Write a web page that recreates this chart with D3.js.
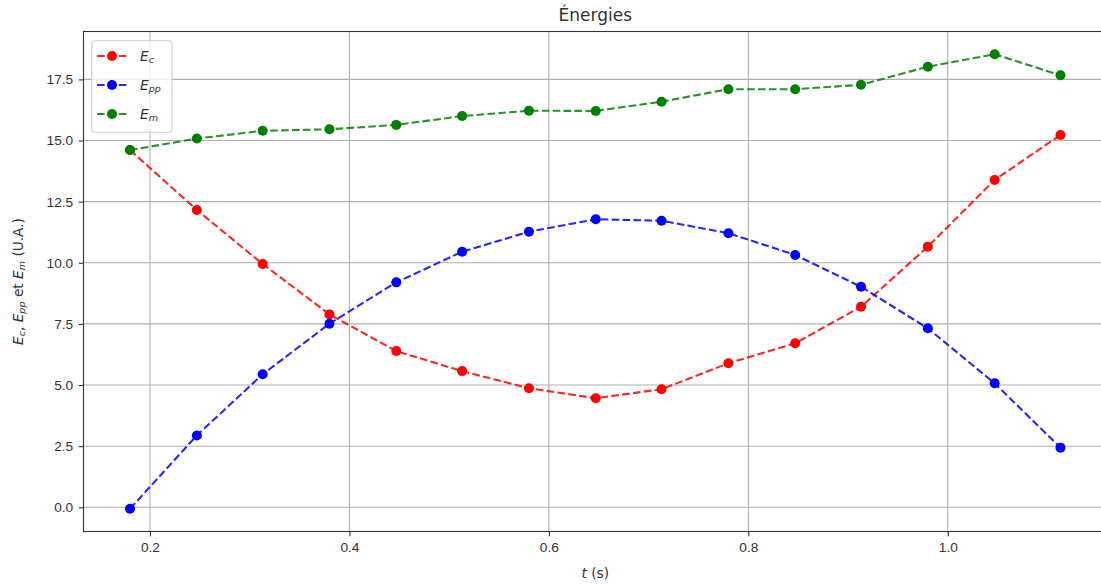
<!DOCTYPE html>
<html>
<head>
<meta charset="utf-8">
<script src="https://cdn.jsdelivr.net/npm/d3@7"></script>
<style>
  body { margin: 0; background: #fff; }
  svg { display: block; font-family: "DejaVu Sans", sans-serif; }
  .tick text { fill: #333; font-size: 13.7px; }
</style>
</head>
<body>
<div class="canvas"></div>
<script>
// data
const t   = [0.180, 0.247, 0.313, 0.380, 0.447, 0.513, 0.580, 0.647, 0.713, 0.780, 0.847, 0.913, 0.980, 1.047, 1.113];
const Ec  = [14.61, 12.16, 9.95, 7.89, 6.39, 5.57, 4.87, 4.46, 4.83, 5.89, 6.71, 8.20, 10.66, 13.39, 15.23];
const Epp = [-0.06, 2.94, 5.44, 7.51, 9.20, 10.45, 11.27, 11.78, 11.72, 11.21, 10.32, 9.02, 7.32, 5.07, 2.44];
const Em  = [14.61, 15.08, 15.40, 15.46, 15.64, 16.00, 16.22, 16.21, 16.59, 17.10, 17.10, 17.28, 18.02, 18.53, 17.67];
const xTicks = [0.2, 0.4, 0.6, 0.8, 1.0];
const yTicks = [0, 2.5, 5, 7.5, 10, 12.5, 15, 17.5];

const series = [
    { name: 'c',  sub: 'c',  values: Ec,  colour: '#ff0000' },
    { name: 'pp', sub: 'pp', values: Epp, colour: '#0000ff' },
    { name: 'm',  sub: 'm',  values: Em,  colour: '#008000' }
];

const dims = { width: 1101, height: 584 };
const box = { left: 83.5, top: 31.5, right: 1107, bottom: 531.5 };

const svg = d3.select('.canvas')
    .append('svg')
    .attr('width', dims.width)
    .attr('height', dims.height);

// matplotlib style 5% margins
const pad = (ext) => { const m = (ext[1] - ext[0]) * 0.05; return [ext[0] - m, ext[1] + m]; };
const allVals = Ec.concat(Epp, Em);

const x = d3.scaleLinear().domain(pad(d3.extent(t))).range([box.left, box.right]);
const y = d3.scaleLinear().domain(pad(d3.extent(allVals))).range([box.bottom, box.top]);

// grid
const grid = svg.append('g');
grid.selectAll('line.gx')
    .data(xTicks)
    .enter().append('line')
    .attr('x1', d => x(d)).attr('x2', d => x(d))
    .attr('y1', box.top).attr('y2', box.bottom)
    .attr('stroke', '#b0b0b0').attr('stroke-width', 1.1);
grid.selectAll('line.gy')
    .data(yTicks)
    .enter().append('line')
    .attr('x1', box.left).attr('x2', box.right)
    .attr('y1', d => y(d)).attr('y2', d => y(d))
    .attr('stroke', '#b0b0b0').attr('stroke-width', 1.1);

// lines + markers
const line = d3.line()
    .x((d, i) => x(t[i]))
    .y(d => y(d));

series.forEach(s => {
    const g = svg.append('g');
    g.append('path')
        .attr('d', line(s.values))
        .attr('fill', 'none')
        .attr('stroke', s.colour)
        .attr('stroke-opacity', 0.85)
        .attr('stroke-width', 2.1)
        .attr('stroke-dasharray', '7.6,3.3');
    g.selectAll('circle')
        .data(s.values)
        .enter().append('circle')
        .attr('cx', (d, i) => x(t[i]))
        .attr('cy', d => y(d))
        .attr('r', 5)
        .attr('fill', s.colour);
});

// axes
const xAxis = d3.axisBottom(x)
    .tickValues(xTicks)
    .tickFormat(d3.format('.1f'))
    .tickSize(4.8)
    .tickPadding(5.5);
const yAxis = d3.axisLeft(y)
    .tickValues(yTicks)
    .tickFormat(d3.format('.1f'))
    .tickSize(4.8)
    .tickPadding(5.5);

const xg = svg.append('g').attr('transform', `translate(0, ${box.bottom})`).call(xAxis);
const yg = svg.append('g').attr('transform', `translate(${box.left}, 0)`).call(yAxis);
[xg, yg].forEach(g => {
    g.select('.domain').remove();
    g.selectAll('.tick line').attr('stroke', '#333').attr('stroke-width', 1.1);
});

// frame
svg.append('rect')
    .attr('x', box.left).attr('y', box.top)
    .attr('width', box.right - box.left).attr('height', box.bottom - box.top)
    .attr('fill', 'none')
    .attr('stroke', '#333')
    .attr('stroke-width', 1.1);

// text helper for mathtext-like parts
const addParts = (sel, parts) => {
    parts.forEach(p => {
        const ts = sel.append('tspan').text(p.text);
        if (p.italic) ts.attr('font-style', 'italic');
        if (p.sub) ts.attr('font-size', '0.7em').attr('dy', '0.22em');
        if (p.up) ts.attr('dy', '-0.154em');
    });
};

// title
svg.append('text')
    .attr('x', (box.left + box.right) / 2)
    .attr('y', 21)
    .attr('text-anchor', 'middle')
    .attr('font-size', 17)
    .attr('fill', '#333')
    .text('Énergies');

// x label
const xl = svg.append('text')
    .attr('x', (box.left + box.right) / 2)
    .attr('y', 578)
    .attr('text-anchor', 'middle')
    .attr('font-size', 13.7)
    .attr('fill', '#333');
addParts(xl, [{ text: 't', italic: true }, { text: ' (s)' }]);

// y label
const yl = svg.append('text')
    .attr('transform', `translate(23, ${(box.top + box.bottom) / 2}) rotate(-90)`)
    .attr('text-anchor', 'middle')
    .attr('font-size', 13.7)
    .attr('fill', '#333');
addParts(yl, [
    { text: 'E', italic: true }, { text: 'c', italic: true, sub: true }, { text: ', ', up: true },
    { text: 'E', italic: true }, { text: 'pp', italic: true, sub: true }, { text: ' et ', up: true },
    { text: 'E', italic: true }, { text: 'm', italic: true, sub: true }, { text: ' (U.A.)', up: true }
]);

// legend
const legendGroup = svg.append('g');
legendGroup.append('rect')
    .attr('x', 91.7).attr('y', 40.7)
    .attr('width', 80.3).attr('height', 91.6)
    .attr('rx', 3).attr('ry', 3)
    .attr('fill', 'rgba(255,255,255,0.8)')
    .attr('stroke', '#cccccc')
    .attr('stroke-width', 1.1);

const legendRows = legendGroup.selectAll('g.row')
    .data(series)
    .enter().append('g')
    .attr('transform', (d, i) => `translate(0, ${56 + i * 29})`);

legendRows.append('line')
    .attr('x1', 97).attr('x2', 126.5)
    .attr('y1', 0).attr('y2', 0)
    .attr('stroke', d => d.colour)
    .attr('stroke-opacity', 0.85)
    .attr('stroke-width', 2.1)
    .attr('stroke-dasharray', '7.6,3.3');
legendRows.append('circle')
    .attr('cx', 112).attr('cy', 0)
    .attr('r', 5)
    .attr('fill', d => d.colour);
legendRows.append('text')
    .attr('x', 140)
    .attr('y', 4.5)
    .attr('font-size', 13.7)
    .attr('fill', '#333')
    .each(function (d) {
        addParts(d3.select(this), [{ text: 'E', italic: true }, { text: d.sub, italic: true, sub: true }]);
    });
</script>
</body>
</html>
